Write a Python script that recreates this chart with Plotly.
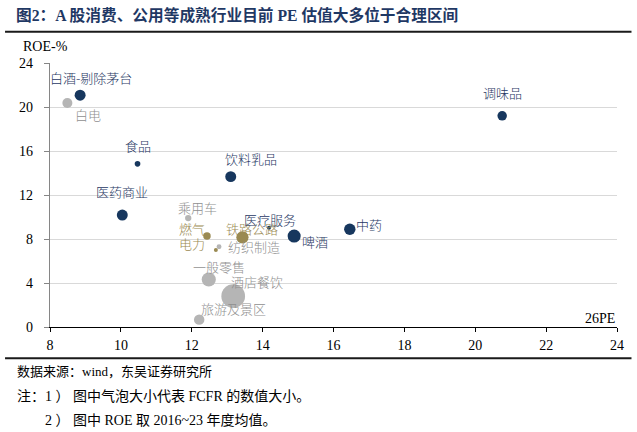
import plotly.graph_objects as go

# ---- data ----
names = ["白酒-剔除茅台", "白电", "食品", "饮料乳品", "医药商业", "调味品",
         "乘用车", "燃气", "电力", "纺织制造", "铁路公路", "医疗服务",
         "啤酒", "中药", "一般零售", "酒店餐饮", "旅游及景区"]
pe = [8.85, 8.49, 10.47, 13.10, 10.04, 20.76,
      11.90, 12.43, 12.68, 12.77, 13.43, 14.18,
      14.89, 16.46, 12.48, 13.17, 12.21]
roe = [21.07, 20.36, 14.83, 13.67, 10.18, 19.20,
       9.90, 8.27, 7.00, 7.30, 8.15, 9.02,
       8.27, 8.88, 4.32, 2.80, 0.67]
fcfr = [60, 50, 16, 60, 60, 45,
        20, 28, 8, 12, 75, 8,
        85, 65, 100, 280, 55]
group = ["consumer", "other", "consumer", "consumer", "consumer", "consumer",
         "other", "utility", "utility", "other", "utility", "consumer",
         "consumer", "consumer", "other", "other", "other"]

x_ticks = [8, 10, 12, 14, 16, 18, 20, 22, 24]
y_ticks = [0, 4, 8, 12, 16, 20, 24]

title = "图2：A 股消费、公用等成熟行业目前 PE 估值大多位于合理区间"
notes = ["数据来源：wind，东吴证券研究所",
         "注：1 ） 图中气泡大小代表 FCFR 的数值大小。",
         "　　2 ） 图中 ROE 取 2016~23 年度均值。"]

# ---- style ----
marker_colors = {"consumer": "#17375E", "other": "#B5B5B5", "utility": "#9A8A52"}
label_colors = {"consumer": "#1F3864", "other": "#8F8F8F", "utility": "#9A8A52"}
label_offsets = {  # pixel offsets of label centre from bubble centre
    "白酒-剔除茅台": (11, -18), "白电": (21, 11), "食品": (0, -18),
    "饮料乳品": (20, -18), "医药商业": (0, -24), "调味品": (0, -23),
    "乘用车": (9, -11), "燃气": (-15, -8), "电力": (-24, -7),
    "纺织制造": (35, 0), "铁路公路": (10, -9), "医疗服务": (1, -8),
    "啤酒": (21, 5), "中药": (19, -5), "一般零售": (10, -13),
    "酒店餐饮": (24, -15), "旅游及景区": (34, -11),
}
note_sizes = [13, 14, 14]

W, H = 637, 432
L, R, T, B = 50, 19.5, 63.3, 105.3
PW, PH = W - L - R, H - T - B

CJK = "Noto Sans CJK SC"
SERIF = "Liberation Serif, Noto Sans CJK SC"


def px(x):
    return (x - L) / PW


def py(y):
    return (H - B - y) / PH


fig = go.Figure()
fig.add_trace(go.Scatter(
    x=pe, y=roe, mode="markers",
    marker=dict(size=fcfr, sizemode="area", sizeref=1.0, sizemin=2,
                color=[marker_colors[g] for g in group], line=dict(width=0),
                opacity=1),
    hoverinfo="text", text=names, showlegend=False, cliponaxis=False,
))

ann = []
for n, x, y, g in zip(names, pe, roe, group):
    dx, dy = label_offsets[n]
    ann.append(dict(x=x, y=y, xref="x", yref="y", text=n, showarrow=False,
                    xshift=dx, yshift=-dy, xanchor="center", yanchor="middle",
                    font=dict(family=CJK, size=13, weight=300, color=label_colors[g])))

ann.append(dict(x=px(14), y=py(15), xref="paper", yref="paper", text="<b>" + title + "</b>",
                showarrow=False, xanchor="left", yanchor="middle",
                font=dict(family=SERIF, size=15.7, color="#1F3864")))
ann.append(dict(x=px(21), y=py(47), xref="paper", yref="paper", text="ROE-%",
                showarrow=False, xanchor="left", yanchor="middle",
                font=dict(family=SERIF, size=14, color="#000000")))
ann.append(dict(x=px(618), y=py(318), xref="paper", yref="paper", text="26PE",
                showarrow=False, xanchor="right", yanchor="middle",
                font=dict(family=SERIF, size=14, color="#000000")))
for t, yy, fs in zip(notes, [371, 396, 420], note_sizes):
    ann.append(dict(x=px(15), y=py(yy), xref="paper", yref="paper", text=t,
                    showarrow=False, xanchor="left", yanchor="middle",
                    font=dict(family=SERIF, size=fs, color="#000000")))

shapes = [
    dict(type="line", xref="paper", yref="paper", x0=px(5), x1=px(632), y0=py(32), y1=py(32),
         line=dict(color="#1A1A1A", width=2)),
    dict(type="line", xref="paper", yref="paper", x0=px(5), x1=px(632), y0=py(358), y1=py(358),
         line=dict(color="#1A1A1A", width=2)),
]

fig.update_layout(
    width=W, height=H, autosize=False,
    margin=dict(l=L, r=R, t=T, b=B, pad=0),
    paper_bgcolor="white", plot_bgcolor="white",
    annotations=ann, shapes=shapes,
    xaxis=dict(range=[8, 24], tickvals=x_ticks, ticktext=[str(v) for v in x_ticks],
               showgrid=False, zeroline=False, showline=True, linecolor="#000000", linewidth=1.3,
               ticks="outside", ticklen=4, tickcolor="#000000", tickwidth=1,
               ticklabelstandoff=1,
               tickfont=dict(family=SERIF, size=14, color="#000000")),
    yaxis=dict(range=[0, 24], tickvals=y_ticks, ticktext=[str(v) for v in y_ticks],
               showgrid=True, gridcolor="#D9D9D9", gridwidth=1, zeroline=False,
               showline=True, linecolor="#868686", linewidth=1.3,
               ticks="outside", ticklen=5, tickcolor="#868686", tickwidth=1,
               ticklabelstandoff=8,
               tickfont=dict(family=SERIF, size=14, color="#000000")),
)

fig.write_html("out.html", config={"displayModeBar": False},
               post_script="document.body.style.margin='0';document.body.style.overflow='hidden';")
